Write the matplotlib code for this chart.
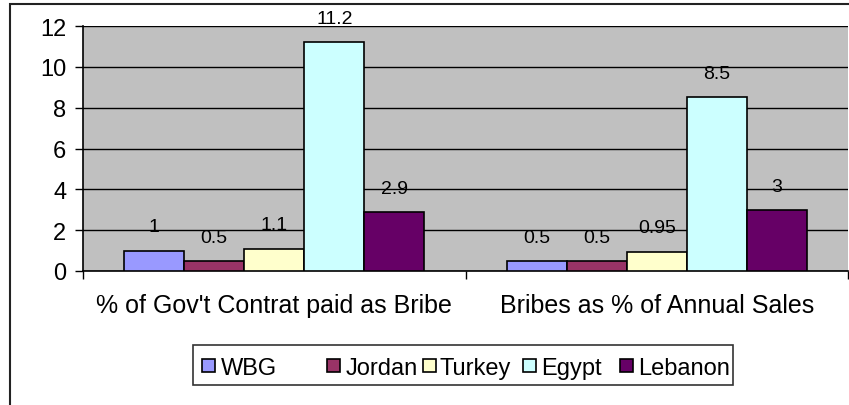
import matplotlib
matplotlib.use("Agg")
import matplotlib.pyplot as plt
from matplotlib.patches import Rectangle
import numpy as np

plt.rcParams['font.family'] = ['Liberation Sans', 'DejaVu Sans']

categories = ["% of Gov't Contrat paid as Bribe", "Bribes as % of Annual Sales"]
series = ["WBG", "Jordan", "Turkey", "Egypt", "Lebanon"]
values = {
    "WBG": [1, 0.5],
    "Jordan": [0.5, 0.5],
    "Turkey": [1.1, 0.95],
    "Egypt": [11.2, 8.5],
    "Lebanon": [2.9, 3],
}
colors = ["#9999FF", "#993366", "#FFFFCC", "#CCFFFF", "#660066"]
yticks = [0, 2, 4, 6, 8, 10, 12]

W, H = 849, 406
fig = plt.figure(figsize=(W / 100, H / 100), dpi=100)

def fx(x):
    return x / W

def fy(y):
    return 1 - y / H

ax = fig.add_axes([fx(83), fy(272), fx(848) - fx(83), fy(27) - fy(272)])
ax.set_facecolor("#C0C0C0")

x = np.arange(len(categories))
bw = 0.157
for i, (name, col) in enumerate(zip(series, colors)):
    pos = x + (i - 2) * bw
    bars = ax.bar(pos, values[name], width=bw, color=col, edgecolor="black",
                  linewidth=1.2, zorder=3)
    for b, v in zip(bars, values[name]):
        ax.annotate(f"{v:g}", (b.get_x() + b.get_width() / 2, b.get_height()),
                    xytext=(0, 17), textcoords="offset points",
                    ha="center", va="center", fontsize=14, color="black")

ax.set_xlim(-0.5, 1.5)
ax.set_ylim(0, 12)
ax.set_yticks(yticks)
ax.set_yticklabels([str(t) for t in yticks], fontsize=17)
ax.set_xticks(x)
ax.set_xticklabels(categories, fontsize=18)
ax.set_xticks([-0.5, 0.5, 1.5], minor=True)
ax.tick_params(axis="x", which="major", length=0, pad=16)
ax.tick_params(axis="x", which="minor", length=6, width=1, direction="out")
ax.tick_params(axis="y", length=6, width=1, direction="out", pad=6)
ax.yaxis.grid(True, color="black", linewidth=1, zorder=1)
ax.set_axisbelow(True)
for s in ["top", "right"]:
    ax.spines[s].set_visible(False)
ax.spines["left"].set_color("black")
ax.spines["bottom"].set_color("black")
ax.spines["left"].set_linewidth(1.2)
ax.spines["bottom"].set_linewidth(1.2)

# figure border
fig.patches.append(Rectangle((fx(10), -0.1), 1.0, fy(5) + 0.1, transform=fig.transFigure,
                             fill=False, edgecolor="#222222", linewidth=1.5))

# legend (manual, Excel-like)
fig.patches.append(Rectangle((fx(193), fy(386)), fx(733) - fx(193), fy(346) - fy(386),
                             transform=fig.transFigure, facecolor="white",
                             edgecolor="#333333", linewidth=1.2))
sq_left = [201.7, 327, 423, 523, 620]
txt_left = [221, 346, 440, 541, 638]
yc = 366.5
sq = 13
for name, col, sl, tl in zip(series, colors, sq_left, txt_left):
    fig.patches.append(Rectangle((fx(sl), fy(yc + sq / 2)), fx(sq), sq / H,
                                 transform=fig.transFigure, facecolor=col,
                                 edgecolor="black", linewidth=1.2))
    fig.text(fx(tl), fy(yc), name, fontsize=17, ha="left", va="center_baseline")

fig.savefig("out.png", dpi=100)
